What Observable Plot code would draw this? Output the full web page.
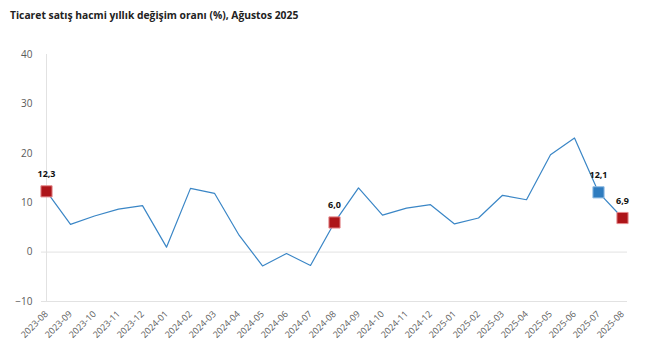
<!DOCTYPE html>
<html>
<head>
<meta charset="utf-8">
<script src="https://cdn.jsdelivr.net/npm/d3@7"></script>
<script src="https://cdn.jsdelivr.net/npm/@observablehq/plot@0.6"></script>
<style>
  html, body { margin: 0; padding: 0; background: #fff; }
  #title { font-family: "Open Sans", sans-serif; font-weight: 700; font-size: 10.3px; color: #222; height: 30px; line-height: 31px; padding-left: 10px; box-sizing: border-box; }
  #chart svg { display: block; }
</style>
</head>
<body>
<div id="title">Ticaret satış hacmi yıllık değişim oranı (%), Ağustos 2025</div>
<div id="chart"></div>
<script>
const months = ["2023-08","2023-09","2023-10","2023-11","2023-12","2024-01","2024-02","2024-03","2024-04","2024-05","2024-06","2024-07","2024-08","2024-09","2024-10","2024-11","2024-12","2025-01","2025-02","2025-03","2025-04","2025-05","2025-06","2025-07","2025-08"];
const values = [12.3, 5.6, 7.3, 8.7, 9.4, 1.0, 12.9, 11.9, 3.6, -2.8, -0.3, -2.7, 6.0, 13.0, 7.5, 8.9, 9.6, 5.7, 6.9, 11.5, 10.6, 19.7, 23.1, 12.1, 6.9];
const highlightMonths = ["2023-08", "2024-08", "2025-07", "2025-08"];
const highlightColors = ["red", "red", "blue", "red"];
const yTicks = [-10, 0, 10, 20, 30, 40];

const data = months.map((m, i) => ({month: m, value: values[i]}));
const marks = highlightMonths.map((m, i) => ({month: m, value: values[months.indexOf(m)], kind: highlightColors[i]}));
const fmt = v => v.toFixed(1).replace(".", ",");

const chart = Plot.plot({
  width: 652,
  height: 321,
  marginTop: 24,
  marginBottom: 50,
  marginLeft: 41,
  marginRight: 25,
  style: { fontFamily: "'Open Sans', sans-serif", fontSize: "9.5px", color: "#555", background: "#fff" },
  x: { type: "point", domain: months, padding: 0, label: null },
  y: { domain: [-10, 40], label: null },
  marks: [
    Plot.ruleY([0, -10], { stroke: "#e2e2e2", strokeWidth: 1 }),
    Plot.ruleX([months[0]], { y1: -10, y2: 40, stroke: "#e2e2e2", strokeWidth: 1 }),
    Plot.axisY(yTicks, { tickSize: 0, tickPadding: 9, fill: "#5a5a5a", fontSize: 10 }),
    Plot.axisX(months, { tickSize: 0, tickPadding: 11, tickRotate: -45, fill: "#5a5a5a", fontSize: 9 }),
    Plot.line(data, { x: "month", y: "value", stroke: "#3a86c6", strokeWidth: 1.2 }),
    Plot.dot(marks, { x: "month", y: "value", symbol: "square", r: 6.3,
      fill: d => d.kind === "red" ? "#ad1419" : "#2f7cbf",
      stroke: d => d.kind === "red" ? "#e58a8d" : "#8fbbe3", strokeWidth: 1 }),
    Plot.text(marks, { x: "month", y: "value", text: d => fmt(d.value), dy: -17, fill: "#111", fontWeight: "bold", fontSize: 9 })
  ]
});
document.getElementById("chart").appendChild(chart);
</script>
</body>
</html>
